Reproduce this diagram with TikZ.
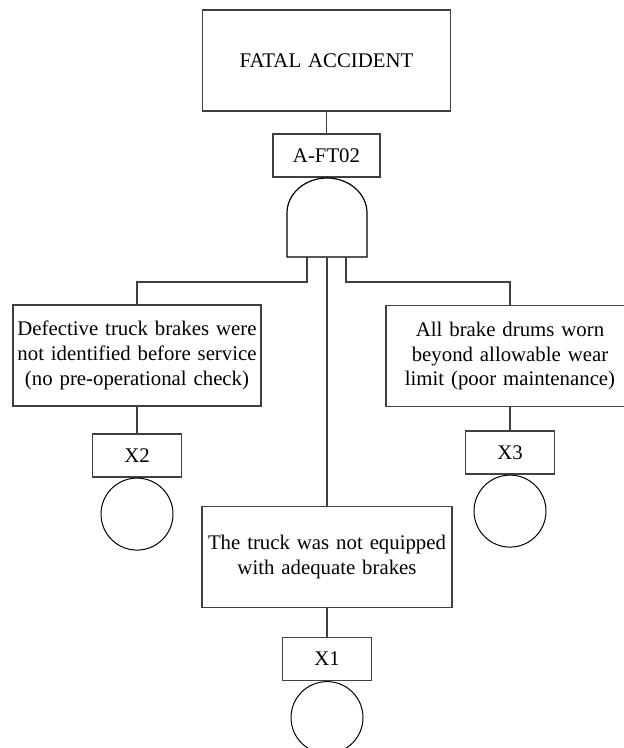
\documentclass[tikz,border=0pt]{standalone}
\usepackage{fontspec}
\setmainfont{Liberation Serif}
\usetikzlibrary{positioning}

\tikzset{
	eventbox/.style={draw=black!75, line width=0.6pt, minimum width=124pt, minimum height=50.5pt, text width=121pt, align=center, inner sep=1pt},
	idbox/.style={draw=black!75, line width=0.6pt, minimum width=44.5pt, minimum height=21.5pt, inner sep=1pt},
	basic/.style={draw=black, line width=0.5pt, circle, minimum size=36pt, inner sep=0pt},
	link/.style={draw=black!75, line width=0.6pt}
}

\begin{document}
\begin{tikzpicture}[x=0.5pt, y=-0.5pt, font=\fontsize{10.4}{12.4}\selectfont]
		\useasboundingbox (0,0) rectangle (624,748);

		\node[eventbox] (top) at (326.5,60.5) {FATAL ACCIDENT};
		\node[idbox, minimum width=53.5pt] (topid) at (326.5,155.5) {A-FT02};

		% and gate
		\draw[link, draw=black] (287,257) -- (287,213) arc[start angle=180, end angle=0, x radius=20pt, y radius=17.5pt] -- (367,257) -- cycle;
		\coordinate (legL) at (307,257);
		\coordinate (legM) at (327,257);
		\coordinate (legR) at (346,257);

		\node[eventbox] (left) at (137,355.5) {Defective truck brakes were not identified before service (no pre-operational check)};
		\node[eventbox] (right) at (510,356) {All brake drums worn beyond allowable wear limit (poor maintenance)};
		\node[eventbox, minimum width=125pt] (mid) at (327,557) {The truck was not equipped with adequate brakes};

		\node[idbox] (x2) at (137,455.5) {X2};
		\node[idbox] (x3) at (510,452.5) {X3};
		\node[idbox] (x1) at (327,659) {X1};

		\node[basic] (c2) [below=0pt of x2] {};
		\node[basic] (c3) [below=0pt of x3] {};
		\node[basic] (c1) [below=0pt of x1] {};

		\draw[link] (top) -- (topid);
		\draw[link] (legL) -- ++(0,25) -| (left);
		\draw[link] (legR) -- ++(0,25) -| (right);
		\draw[link] (legM) -- (mid);
		\draw[link] (left) -- (x2);
		\draw[link] (right) -- (x3);
		\draw[link] (mid) -- (x1);

	\end{tikzpicture}
\end{document}
